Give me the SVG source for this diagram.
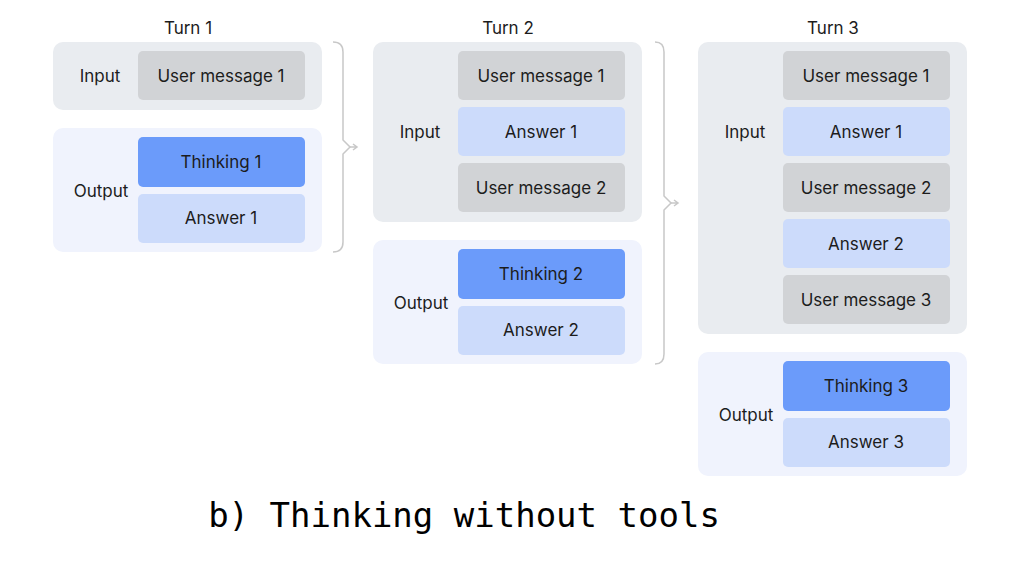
<svg xmlns="http://www.w3.org/2000/svg" width="1013" height="571" viewBox="0 0 1013 571">
<style>
text{font-family:Inter,"Noto Sans",sans-serif;font-size:17px;fill:#1c1c1c;text-anchor:middle;dominant-baseline:central}
.pi{fill:#E9ECF0}.po{fill:#F0F3FD}.u{fill:#D1D3D6}.t{fill:#6B9BFA}.a{fill:#CCDBFB}
.br{fill:none;stroke:#C8C8C8;stroke-width:1.5}
.title{font-family:"DejaVu Sans Mono","Liberation Mono",monospace;font-size:34px;fill:#000}
</style>
<rect width="1013" height="571" fill="#fff"/>
<g id="turn1">
<text x="188" y="28">Turn 1</text>
<rect class="pi" x="53" y="42" width="269" height="68" rx="10"/>
<text x="100" y="76">Input</text>
<rect class="u" x="138" y="51" width="167" height="49" rx="5"/><text x="221" y="76">User message 1</text>
<rect class="po" x="53" y="128" width="269" height="124" rx="10"/>
<text x="101" y="191">Output</text>
<rect class="t" x="138" y="137" width="167" height="50" rx="5"/><text x="221" y="162">Thinking 1</text>
<rect class="a" x="138" y="194" width="167" height="49" rx="5"/><text x="221" y="218">Answer 1</text>
</g>
<g id="turn2">
<text x="508" y="28">Turn 2</text>
<rect class="pi" x="373" y="42" width="269" height="180" rx="10"/>
<text x="420" y="132">Input</text>
<rect class="u" x="458" y="51" width="167" height="49" rx="5"/><text x="541" y="76">User message 1</text>
<rect class="a" x="458" y="107" width="167" height="49" rx="5"/><text x="541" y="132">Answer 1</text>
<rect class="u" x="458" y="163" width="167" height="49" rx="5"/><text x="541" y="188">User message 2</text>
<rect class="po" x="373" y="240" width="269" height="124" rx="10"/>
<text x="421" y="303">Output</text>
<rect class="t" x="458" y="249" width="167" height="50" rx="5"/><text x="541" y="274">Thinking 2</text>
<rect class="a" x="458" y="306" width="167" height="49" rx="5"/><text x="541" y="330">Answer 2</text>
</g>
<g id="turn3">
<text x="833" y="28">Turn 3</text>
<rect class="pi" x="698" y="42" width="269" height="292" rx="10"/>
<text x="745" y="132">Input</text>
<rect class="u" x="783" y="51" width="167" height="49" rx="5"/><text x="866" y="76">User message 1</text>
<rect class="a" x="783" y="107" width="167" height="49" rx="5"/><text x="866" y="132">Answer 1</text>
<rect class="u" x="783" y="163" width="167" height="49" rx="5"/><text x="866" y="188">User message 2</text>
<rect class="a" x="783" y="219" width="167" height="49" rx="5"/><text x="866" y="244">Answer 2</text>
<rect class="u" x="783" y="275" width="167" height="49" rx="5"/><text x="866" y="300">User message 3</text>
<rect class="po" x="698" y="352" width="269" height="124" rx="10"/>
<text x="746" y="415">Output</text>
<rect class="t" x="783" y="361" width="167" height="50" rx="5"/><text x="866" y="386">Thinking 3</text>
<rect class="a" x="783" y="418" width="167" height="49" rx="5"/><text x="866" y="442">Answer 3</text>
</g>
<g id="connectors">
<path class="br" d="M333,42 Q343,42 343,52 L343,140 L350,147 L343,154 L343,242 Q343,252 333,252"/>
<path class="br" d="M350,147 L357,147 M353,144 L357,147 L353,150"/>
<path class="br" d="M655,42 Q664,42 664,52 L664,196 L671,203 L664,210 L664,354 Q664,364 655,364"/>
<path class="br" d="M671,203 L678,203 M674,200 L678,203 L674,206"/>
</g>
<text class="title" x="464" y="515">b) Thinking without tools</text>
</svg>
